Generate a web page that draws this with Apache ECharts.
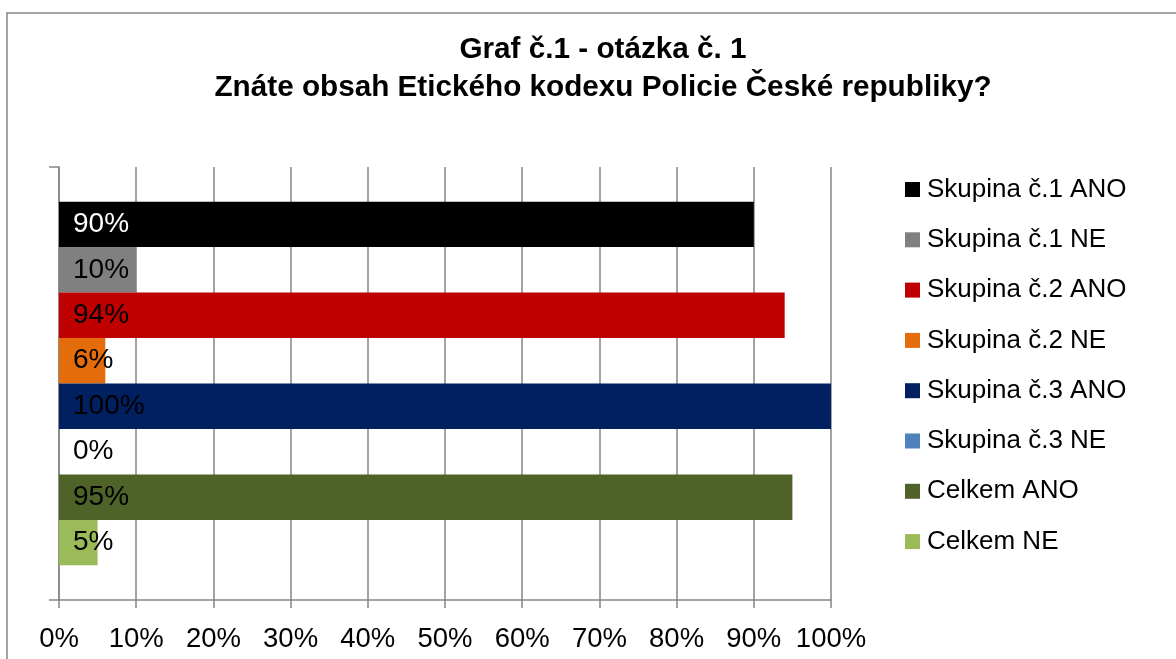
<!DOCTYPE html>
<html><head><meta charset="utf-8">
<script src="https://cdn.jsdelivr.net/npm/echarts@6/dist/echarts.min.js"></script>
<style>html,body{margin:0;padding:0;background:#fff}#c{width:1176px;height:659px}</style>
</head><body><div id="c"></div>
<script>
const categories = ['Otázka 1'];
const seriesNames = ['Skupina č.1 ANO','Skupina č.1 NE','Skupina č.2 ANO','Skupina č.2 NE','Skupina č.3 ANO','Skupina č.3 NE','Celkem ANO','Celkem NE'];
const seriesValues = [90, 10, 94, 6, 100, 0, 95, 5];
const seriesColors = ['#000000','#808080','#C00000','#E46C0A','#002060','#4F81BD','#4F6228','#9BBB59'];
const labelColors = ['#ffffff','#000000','#000000','#000000','#000000','#000000','#000000','#000000'];
const xTicks = [0,10,20,30,40,50,60,70,80,90,100];

const font = '"Liberation Sans", Arial, sans-serif';
const chart = echarts.init(document.getElementById('c'));
chart.setOption({
  animation: false,
  backgroundColor: '#fff',
  title: {
    text: 'Graf č.1 - otázka č. 1\nZnáte obsah Etického kodexu Policie České republiky?',
    left: 598, top: 26, textAlign: 'center',
    textStyle: { fontFamily: font, fontWeight: 'bold', fontSize: 29.7, lineHeight: 38, color: '#000' }
  },
  graphic: [{
    type: 'rect', shape: { x: 7, y: 13, width: 1300, height: 800 },
    style: { fill: 'none', stroke: '#868686', lineWidth: 1.5 }, silent: true
  }],
  legend: {
    orient: 'vertical', left: 905, top: 174.5, padding: 0,
    icon: 'rect', itemWidth: 15, itemHeight: 15, itemGap: 20.3,
    data: seriesNames,
    textStyle: { fontFamily: font, fontSize: 26, lineHeight: 30, color: '#000', padding: [0,0,0,2] }
  },
  grid: { left: 59, right: 345, top: 167, bottom: 59, containLabel: false },
  xAxis: {
    type: 'value', min: 0, max: 100, interval: 10,
    axisLine: { show: true, lineStyle: { color: '#868686', width: 1.5 } },
    axisTick: { show: true, length: 8, lineStyle: { color: '#868686', width: 1.5 } },
    splitLine: { show: true, lineStyle: { color: '#868686', width: 1.5 } },
    axisLabel: { fontFamily: font, fontSize: 27.5, color: '#000', margin: 25, formatter: v => v + '%' }
  },
  yAxis: {
    type: 'category', data: categories, inverse: true,
    axisLine: { show: true, lineStyle: { color: '#868686', width: 1.5 } },
    axisTick: { show: true, length: 10, lineStyle: { color: '#868686', width: 1.5 } },
    axisLabel: { show: false }
  },
  series: seriesNames.map((n, i) => ({
    name: n, type: 'bar', data: [seriesValues[i]],
    barGap: '0%', barCategoryGap: '16%',
    itemStyle: { color: seriesColors[i] },
    label: { show: true, position: 'insideLeft', distance: 14, formatter: '{c}%',
      fontFamily: font, fontSize: 28, color: labelColors[i] }
  }))
});
</script></body></html>
